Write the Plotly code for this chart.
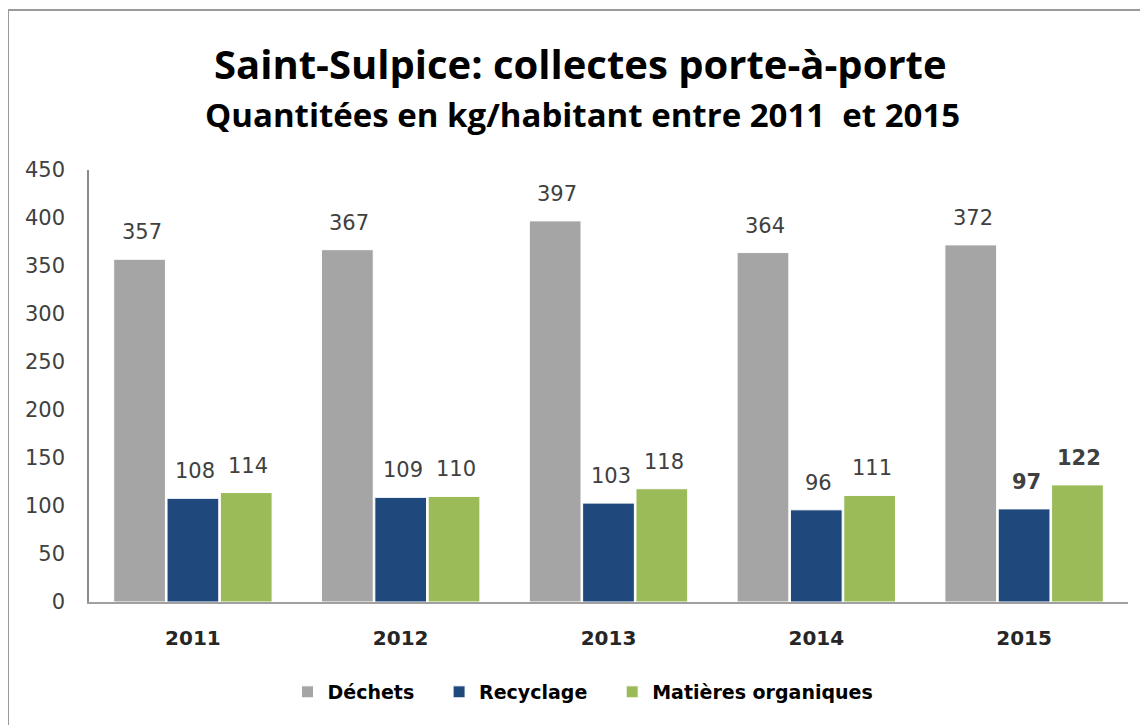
import plotly.graph_objects as go

years = ["2011", "2012", "2013", "2014", "2015"]
dechets = [357, 367, 397, 364, 372]
recyclage = [108, 109, 103, 96, 97]
organiques = [114, 110, 118, 111, 122]
series_names = ["Déchets", "Recyclage", "Matières organiques"]
colors = ["#A5A5A5", "#1F497D", "#9BBB59"]
bold_labels = {(1, 4), (2, 4)}  # (series index, year index) shown in bold

W, H = 1148, 725
OFF = 8  # page body margin offset
ML, MR, MT, MB = 89 - OFF, 28, 170 - OFF, 131
PW = W - ML - MR
PH = H - MT - MB

def px_x(px):
    return (px - OFF - ML) / PW

def px_y(py):
    return (H - MB - (py - OFF)) / PH

fig = go.Figure()
all_series = [dechets, recyclage, organiques]
NBSP = "\u00a0"
for si, (name, vals, col) in enumerate(zip(series_names, all_series, colors)):
    fig.add_trace(go.Bar(
        x=years, y=vals, name=name + (NBSP * 3 if si < 2 else ""),
        marker=dict(color=col, line=dict(color="white", width=1)),
        hovertemplate=name + ": %{y}<extra></extra>",
    ))

bargap = 0.23
slot = PW / len(years) * (1 - bargap) / 3
annotations = []
for si, vals in enumerate(all_series):
    for yi, v in enumerate(vals):
        bold = (si, yi) in bold_labels
        annotations.append(dict(
            x=yi, y=v, xref="x", yref="y",
            text=f"<b>{v}</b>" if bold else str(v),
            showarrow=False, xshift=(si - 1) * slot + 2, yshift=27,
            yanchor="middle", xanchor="center",
            font=dict(family="DejaVu Sans", size=21, color="#404040"),
        ))

annotations.append(dict(
    x=px_x(580), y=px_y(64), xref="paper", yref="paper",
    text="<b>Saint-Sulpice: collectes porte-à-porte</b>", showarrow=False,
    xanchor="center", yanchor="middle",
    font=dict(family="Open Sans", size=40, color="#000000"),
))
annotations.append(dict(
    x=px_x(582), y=px_y(115), xref="paper", yref="paper",
    text="<b>Quantitées en kg/habitant entre 2011  et 2015</b>", showarrow=False,
    xanchor="center", yanchor="middle",
    font=dict(family="Open Sans", size=33, color="#000000"),
))

fig.update_layout(
    width=W, height=H,
    margin=dict(l=ML, r=MR, t=MT, b=MB, pad=0),
    paper_bgcolor="white", plot_bgcolor="white",
    barmode="group", bargap=bargap, bargroupgap=0.03,
    showlegend=True,
    legend=dict(
        orientation="h", x=px_x(583), y=px_y(692), xanchor="center", yanchor="middle",
        font=dict(family="DejaVu Sans", size=19, color="#000000", weight="bold"),
        itemwidth=30, traceorder="normal",
    ),
    annotations=annotations,
    shapes=[dict(
        type="rect", xref="paper", yref="paper",
        x0=px_x(8), x1=px_x(1250), y0=px_y(900), y1=px_y(10),
        line=dict(color="#9a9a9a", width=2), fillcolor="rgba(0,0,0,0)", layer="below",
    )],
    xaxis=dict(
        type="category", range=[-0.5, len(years) - 0.5], autorange=False,
        showline=True, linecolor="#A0A0A0", linewidth=2,
        showgrid=False, ticks="outside", ticklen=17, tickcolor="rgba(0,0,0,0)",
        tickfont=dict(family="DejaVu Sans", size=20, color="#262626", weight="bold"),
    ),
    yaxis=dict(
        range=[0, 450], autorange=False, dtick=50, showgrid=False, zeroline=False,
        showline=True, linecolor="#8c8c8c", linewidth=1.5,
        ticks="outside", ticklen=18, tickcolor="rgba(0,0,0,0)",
        tickfont=dict(family="DejaVu Sans", size=21, color="#404040"),
    ),
)

fig.write_html("out.html")
